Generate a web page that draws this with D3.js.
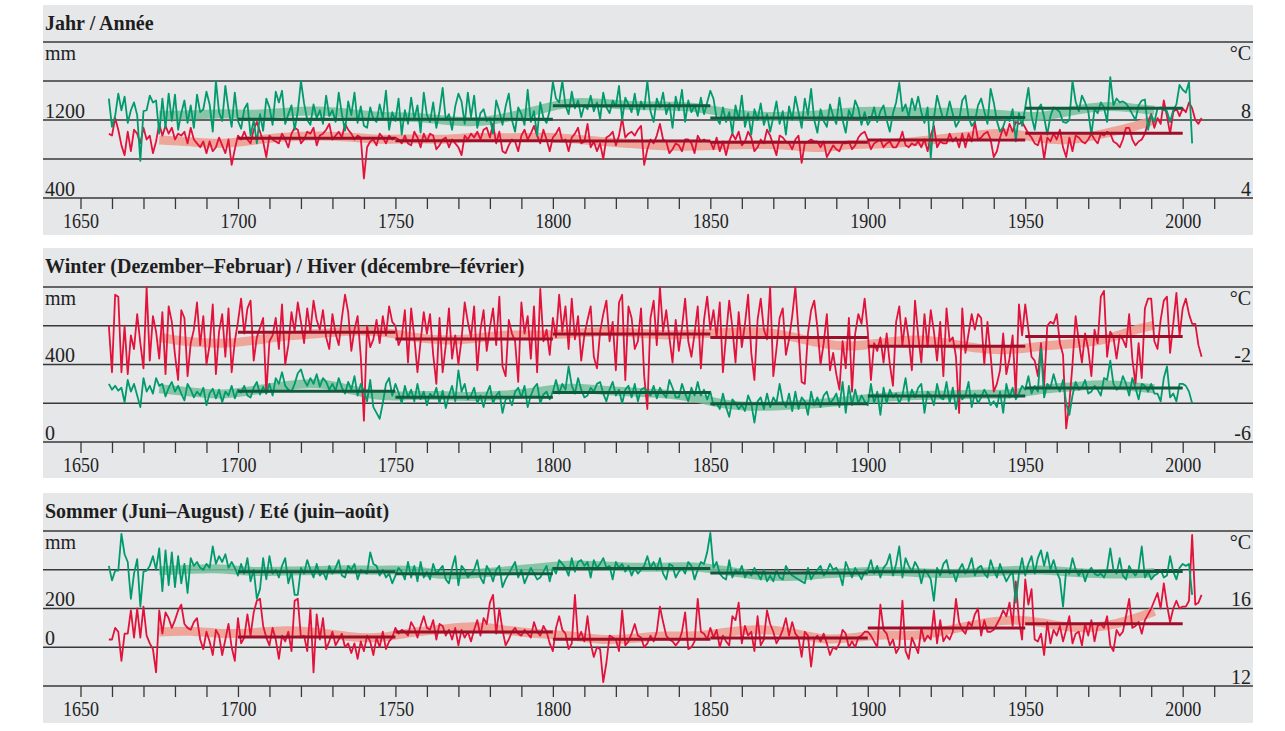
<!DOCTYPE html>
<html>
<head>
<meta charset="utf-8">
<script src="https://cdn.jsdelivr.net/npm/d3@7/dist/d3.min.js"></script>
<style>
  body { margin: 0; background: #fff; }
  svg { display: block; font-family: "Liberation Serif", "Times New Roman", serif; }
</style>
</head>
<body>
<svg id="chart" width="1285" height="731"></svg>
<script>
// first year of every annual series
var firstYear = 1659;

// Jahr / Année : precipitation (mm) 1659-2003, temperature (°C) 1659-2006
var yearPrecip = [1420,
  1130,1240,1470,1300,1440,1170,1300,1380,1250,780,
  1290,1300,1450,1380,1400,1060,1420,1120,1470,1190,
  1460,1100,1270,1400,1170,1350,1120,1460,1280,1310,
  1490,1360,1080,1600,1280,1190,1550,1310,1130,1480,
  1190,1110,1310,1370,1040,1200,960,1260,1090,1420,
  1330,1150,1490,1380,1500,1160,1260,1350,1100,1290,
  1600,1370,1200,1150,1360,1220,1300,1160,1450,1240,
  1300,1180,1480,1260,1090,1390,1250,1480,1170,1340,
  1140,1120,1330,1210,1180,1360,1220,1500,1100,1280,
  1190,1420,1050,1300,1160,1430,1210,1350,1070,1480,
  1250,1180,1380,1120,1290,1530,1200,1260,1100,1340,
  1470,1390,1160,1480,1230,1450,1120,1270,1310,1190,
  1220,1060,1400,1290,1150,1340,1470,1200,1080,1330,
  1260,1150,1510,1180,1290,1040,1380,1220,1170,1300,
  1590,1420,1380,1600,1350,1260,1490,1320,1400,1230,
  1350,1310,1450,1290,1380,1210,1480,1330,1270,1400,
  1340,1550,1200,1430,1360,1280,1470,1250,1390,1310,
  1600,1290,1180,1420,1330,1480,1260,1370,1120,1440,
  1300,1510,1180,1400,1280,1350,1240,1430,1260,1380,
  1500,1420,1220,1160,1330,1180,1280,1060,1350,1200,
  1450,1130,1270,1050,1310,1200,1370,1150,1260,1080,
  1230,1390,1160,1290,1050,1340,1200,1440,1280,1120,
  1420,1250,1520,1200,1070,1310,1190,1130,1360,1240,
  1160,1430,1200,1070,1300,1220,1400,1320,1150,1280,
  1150,1210,1330,1180,1290,1350,1200,1080,1270,1380,
  1580,1290,1360,1230,1420,1300,1440,1280,1170,1330,
  810,1220,1450,1320,1200,1240,1390,1260,1130,1190,
  1400,1450,1230,1140,1180,1350,1420,1290,1160,1520,
  1380,1190,1080,1130,1230,1190,1310,980,1270,1140,
  1330,1530,1240,1100,1310,1360,1230,1050,1240,1330,
  1310,1280,1180,1170,1200,1600,1390,1290,1450,1380,
  1290,1050,1310,1270,1380,1330,1180,1640,1350,1420,
  1380,1390,1370,1320,1260,1200,1350,1400,1410,1100,
  1250,1180,1320,1330,1300,1290,1180,1300,1360,1560,
  1510,1480,1590,960];

var yearTemp = [7.3,
  7.2,8.1,7.5,6.7,6.2,7.4,6.4,7.5,7.3,6.8,
  7.6,7.0,7.2,6.3,6.9,7.8,7.2,7.7,7.3,7.6,
  7.0,7.3,7.2,7.4,6.8,7.6,7.0,6.8,6.6,6.9,
  6.3,6.9,6.4,6.6,7.1,6.7,6.3,7.0,5.7,6.5,
  7.2,7.0,7.4,7.0,6.8,7.5,7.9,7.4,6.9,6.1,
  7.2,7.0,6.9,6.8,7.3,7.0,6.6,7.3,7.6,7.5,
  6.8,7.0,7.4,7.3,7.6,6.7,7.2,7.3,7.5,7.8,
  7.0,7.2,7.4,7.1,7.8,7.5,7.3,7.0,7.2,7.1,
  5.0,6.6,6.9,7.0,6.7,7.3,7.1,6.8,7.2,7.0,
  7.1,7.0,6.8,7.2,6.8,6.7,7.4,7.1,6.6,7.3,
  6.9,7.3,7.2,6.5,6.7,7.0,7.1,6.6,7.0,6.8,
  6.6,6.2,7.2,7.0,7.3,7.1,7.4,7.0,7.5,7.6,
  7.1,7.8,6.8,7.4,6.4,6.3,6.7,7.0,6.9,6.4,
  7.2,7.5,7.0,7.3,7.7,7.2,6.8,7.5,7.0,6.4,
  7.1,7.3,7.6,6.9,7.0,6.4,7.1,7.3,7.6,6.8,
  6.9,7.8,6.6,6.9,6.4,6.8,6.0,7.1,7.2,7.4,
  6.7,7.2,8.1,7.1,7.3,7.4,7.2,7.5,7.7,5.7,
  6.5,7.0,6.8,7.2,7.8,7.0,6.9,6.3,6.5,6.8,
  6.7,6.4,7.0,7.0,6.8,6.3,7.2,6.9,7.0,6.9,
  6.9,6.5,7.1,6.4,6.9,6.2,6.9,7.3,7.0,7.4,
  6.7,6.9,7.4,7.1,6.4,6.6,7.0,6.8,7.5,7.2,
  6.7,6.2,7.2,7.1,6.9,6.8,6.5,7.0,7.2,5.8,
  6.8,6.9,7.0,6.9,6.9,6.6,6.9,6.1,6.4,6.7,
  6.5,6.4,6.8,6.8,6.9,6.5,6.7,7.1,7.3,7.4,
  7.0,6.5,6.8,6.9,7.0,6.6,6.8,6.9,6.6,6.6,
  6.9,7.4,6.7,6.6,6.8,6.7,6.9,6.6,7.0,6.4,
  7.2,7.7,6.6,6.9,6.8,6.8,7.3,6.9,7.1,6.6,
  7.3,6.6,7.3,6.9,7.9,7.0,7.1,7.3,7.4,7.0,
  6.1,6.4,7.1,7.6,7.2,7.8,7.4,7.9,7.8,7.9,
  7.6,7.3,7.1,6.8,6.7,7.2,6.0,7.1,6.9,7.3,
  7.0,7.5,6.6,6.1,7.1,6.4,7.2,7.1,6.9,6.8,
  7.0,7.3,7.0,6.8,7.3,7.2,7.4,7.3,6.9,6.8,
  6.6,7.0,7.6,7.6,7.0,6.7,6.9,7.0,7.3,7.9,
  8.3,7.6,8.1,7.8,9.0,8.2,7.3,8.4,8.6,8.2,
  8.6,8.4,8.9,8.6,8.0,7.8,8.1];

// Winter (December-February)
var winterPrecip = [300,
  270,290,265,280,205,320,260,300,240,180,
  330,260,290,250,330,290,300,235,280,310,
  260,290,250,215,300,270,230,260,240,280,
  190,250,275,225,270,205,260,240,290,225,
  270,255,290,240,230,280,310,245,285,250,
  300,240,330,300,360,290,270,260,300,355,
  375,320,290,330,300,350,285,330,310,270,
  300,265,330,280,250,310,270,340,240,300,
  260,210,320,180,150,120,200,300,330,240,
  300,255,200,290,230,270,210,300,220,260,
  190,250,230,280,200,265,175,240,290,210,
  370,260,300,220,240,280,200,240,180,250,
  290,200,240,260,150,220,230,190,260,280,
  230,290,180,240,280,300,200,245,260,220,
  260,320,250,300,270,390,290,250,330,270,
  230,240,280,260,300,310,250,210,270,310,
  240,270,200,270,290,230,300,210,270,280,
  260,240,290,225,280,250,230,320,280,230,
  230,300,250,210,280,240,310,240,270,220,
  260,190,200,170,250,180,130,220,200,170,
  190,160,240,200,100,210,230,170,250,180,
  230,200,300,210,180,250,160,260,170,230,
  210,140,260,190,230,180,240,260,200,220,
  250,180,310,150,290,190,270,200,240,210,
  190,300,200,260,140,280,200,270,230,250,
  200,240,330,210,270,230,280,300,150,260,
  240,190,300,230,220,310,200,280,170,260,
  220,240,310,180,250,200,230,270,240,190,
  210,180,260,150,300,230,280,220,250,290,
  270,340,250,290,260,480,230,300,280,350,
  290,260,320,200,140,240,310,270,280,320,
  250,260,290,270,240,330,320,420,300,270,
  280,340,300,240,330,280,220,300,290,260,
  300,250,250,210,330,390,230,250,210,300,
  300,290,260,200];

var winterTemp = [0.0,
  -2.4,1.6,1.5,-2.4,0.0,-2.5,-0.5,-1.2,0.6,-0.9,
  -2.2,2.0,-1.8,0.5,-0.3,-1.7,0.7,-2.5,1.0,0.2,
  -1.5,-2.8,0.8,0.4,-2.6,-0.9,-0.2,1.2,-1.0,0.5,
  -2.0,-1.0,1.1,-2.5,-0.3,0.6,-1.6,0.9,-2.4,-0.8,
  0.2,1.4,-0.4,0.9,1.3,-1.8,-0.6,-0.1,0.4,-3.5,
  -0.8,-0.5,0.4,-1.2,1.1,-2.0,-1.0,0.7,-0.3,1.2,
  0.2,-0.9,0.9,-0.3,1.3,0.3,-0.2,0.8,-0.6,-1.2,
  0.6,-0.4,-1.0,0.4,1.6,0.7,-1.3,-0.2,0.5,-1.6,
  -4.9,0.0,-1.1,-0.7,0.3,-0.9,0.5,-0.5,1.0,0.2,
  0.0,-1.0,-0.6,0.8,-1.9,0.9,-0.6,-2.4,-0.8,0.7,
  -0.4,0.6,-1.5,-3.0,0.4,-2.4,-1.0,0.9,-1.7,-0.5,
  -2.0,-0.7,1.2,0.2,-0.6,1.0,-2.3,-0.2,0.8,-1.3,
  -0.1,0.9,-1.0,1.5,-2.1,-2.6,0.3,-0.4,-0.8,-2.9,
  1.2,-0.4,0.5,-1.7,1.0,-2.4,1.9,-0.8,-0.2,-1.5,
  0.4,-0.6,1.6,-0.3,1.0,-1.2,1.4,-0.7,0.5,-1.8,
  -0.5,0.3,1.0,-1.6,-2.2,-0.3,0.6,1.3,-0.8,0.2,
  -2.3,1.2,1.6,-2.8,1.0,0.4,-1.2,-0.8,0.9,-2.6,
  -4.3,0.4,1.3,-1.0,2.0,-0.3,0.8,-0.6,-1.9,0.3,
  -1.3,-0.1,1.4,-0.8,-1.6,-0.4,1.0,-2.2,0.3,1.5,
  -0.2,0.8,-0.6,1.2,-2.4,-0.5,1.3,-0.1,-1.9,0.7,
  -1.1,0.1,1.6,-1.4,-2.8,0.3,1.4,-0.2,-0.7,2.0,
  -2.6,-1.2,0.4,0.9,-1.5,-0.7,0.5,2.0,-0.3,-2.9,
  -3.0,-0.4,0.8,1.3,-0.1,-2.0,-0.9,0.6,-2.3,-1.4,
  -2.5,-3.3,-0.8,-2.2,0.4,-3.4,-0.4,0.6,0.1,1.4,
  -0.3,-2.8,-0.9,-1.3,-0.6,-1.9,-0.4,-2.0,-3.1,0.2,
  1.0,-1.0,0.4,-0.7,-2.3,1.3,-0.5,-1.9,0.6,-1.1,
  0.8,-0.3,-1.8,0.2,-2.6,0.9,-0.8,-0.6,-1.6,-4.5,
  0.9,-1.4,-0.4,0.6,-0.2,0.6,0.4,-2.0,0.2,-1.5,
  -3.4,-3.0,-2.3,-0.4,-2.5,-1.7,-0.5,-3.6,1.1,-0.5,
  1.1,-0.2,-1.6,-1.8,-2.6,-0.9,-3.1,0.0,0.2,0.1,
  0.6,-0.9,-1.5,-5.3,-4.0,-2.0,0.5,-0.8,-1.9,-0.4,
  -1.2,-2.6,-0.2,-0.9,1.5,1.8,-1.6,-0.3,-0.6,-1.7,
  -0.5,-0.7,-1.1,0.6,-1.7,-3.0,-0.9,-2.7,0.9,1.4,
  1.4,-0.8,-1.2,0.3,1.3,1.5,-1.4,0.1,1.7,-0.5,
  0.9,1.4,0.6,0.1,0.1,-1.0,-1.6];

// Sommer (June-August)
var summerPrecip = [420,
  345,395,395,585,480,440,250,380,455,210,
  390,395,420,470,400,510,290,500,320,490,
  310,470,330,430,280,460,420,440,410,400,
  430,410,520,430,470,440,480,410,440,410,
  370,430,380,460,340,400,250,300,460,350,
  470,380,400,360,420,460,330,390,270,270,
  410,380,450,400,360,430,370,390,350,420,
  380,410,450,370,360,420,400,430,350,400,
  390,380,490,430,420,370,400,360,380,330,
  370,410,390,350,440,360,420,340,440,360,
  390,350,430,380,400,420,350,330,410,470,
  320,420,400,360,380,400,450,360,330,420,
  390,340,400,420,310,350,380,410,440,360,
  400,330,370,410,380,350,360,390,420,340,
  410,380,450,430,410,370,460,390,440,450,
  420,440,360,450,410,430,460,410,420,350,
  440,410,430,390,420,370,410,380,400,420,
  470,410,440,400,460,380,350,430,420,360,
  390,410,380,440,420,350,400,440,430,490,
  590,410,440,380,360,350,450,360,400,380,
  420,360,390,370,410,380,350,400,340,370,
  340,400,360,350,420,390,370,360,350,340,
  330,410,350,380,400,420,370,390,430,400,
  410,380,320,440,400,360,410,380,350,390,
  400,450,380,420,360,410,430,480,370,430,
  520,360,460,420,390,440,410,330,400,380,
  350,240,410,370,430,450,380,390,340,400,
  430,380,410,460,370,410,420,380,360,450,
  400,360,430,380,340,370,390,230,380,460,
  370,430,470,380,460,500,420,490,400,450,
  390,350,210,400,380,460,400,370,400,340,
  390,410,380,370,380,360,400,510,400,380,
  460,370,350,420,390,370,400,520,360,390,
  350,370,380,400,360,370,470,390,350,410,
  430,420,430,270];

var summerTemp = [14.4,
  14.4,15.0,14.8,13.3,14.7,14.7,15.9,14.5,16.0,14.5,
  16.1,14.6,14.2,13.9,12.7,15.9,14.7,15.8,15.5,15.0,
  15.4,15.9,16.2,15.2,15.0,14.9,15.3,15.5,14.4,13.9,
  14.8,14.3,13.6,14.9,14.6,13.6,14.4,15.2,14.0,13.3,
  15.5,14.2,14.5,15.7,14.6,15.8,16.4,16.5,15.1,14.5,
  14.1,15.0,14.4,13.4,14.6,14.3,14.8,13.8,16.4,16.5,
  14.5,14.6,13.8,16.0,12.7,15.7,14.4,15.5,13.9,14.3,
  14.8,14.1,14.4,14.7,14.0,14.2,13.7,14.2,13.4,14.3,
  13.8,14.6,14.3,13.6,14.5,14.0,14.8,13.9,14.3,14.5,
  15.0,14.7,14.9,14.8,14.6,15.3,15.0,14.5,15.1,15.6,
  15.0,14.9,15.4,14.4,15.2,15.1,14.6,14.9,14.4,15.0,
  14.1,14.9,14.5,14.8,14.3,14.9,15.4,14.6,15.5,15.2,
  16.3,16.7,14.7,16.0,14.9,14.1,14.4,14.8,15.0,14.7,
  14.6,14.9,14.7,14.5,15.3,14.8,14.6,15.1,14.8,14.2,
  13.8,15.0,15.6,14.9,14.7,13.9,14.2,16.7,14.4,14.8,
  14.3,15.6,14.2,13.5,14.0,13.9,12.2,13.2,14.6,14.5,
  14.4,13.8,15.9,14.1,14.3,14.7,15.2,14.6,14.5,14.0,
  14.2,14.6,14.3,14.8,16.1,15.3,14.6,14.4,14.3,14.1,
  14.3,14.8,15.8,13.9,14.0,14.3,16.5,14.8,14.7,14.4,
  15.0,14.5,14.9,14.0,14.6,14.3,14.1,15.6,15.4,16.3,
  14.2,15.1,14.6,14.8,13.8,15.6,14.1,14.4,15.9,15.2,
  14.8,14.2,14.5,14.9,15.5,14.6,15.3,14.7,14.5,13.5,
  14.8,14.6,13.0,14.4,14.6,14.3,14.7,14.2,13.6,14.0,
  13.9,14.2,14.9,14.7,14.0,14.3,14.0,14.5,14.6,14.8,
  14.8,14.6,14.3,14.0,16.2,14.9,14.7,14.1,14.4,13.7,
  14.0,16.4,13.8,13.4,14.5,14.1,13.7,15.0,14.3,14.6,
  14.4,15.9,14.2,15.4,14.3,14.6,14.4,14.8,16.5,15.3,
  14.9,14.7,15.3,15.1,15.7,16.0,14.6,15.4,14.8,14.8,
  14.9,15.2,15.5,15.9,15.6,16.3,15.1,17.4,15.4,14.4,
  17.5,16.2,17.0,14.4,14.3,14.7,13.6,15.3,14.2,14.9,
  14.6,15.1,14.3,14.9,15.6,14.2,14.7,14.8,14.1,15.2,
  14.6,15.4,14.3,15.1,15.2,15.0,15.6,14.1,13.8,14.9,
  14.6,14.8,15.6,16.5,15.0,15.1,15.3,14.7,15.4,15.7,
  16.0,16.4,16.8,16.0,17.3,16.2,15.3,16.0,16.4,16.0,
  16.1,16.1,16.4,19.8,16.2,16.3,16.7];

// smoothed curves, read every ten years
var bandYears = [1675,1685,1695,1705,1715,1725,1735,1745,1755,1765,1775,1785,1795,1805,1815,1825,1835,1845,1855,1865,1875,1885,1895,1905,1915,1925,1935,1945,1955,1965,1975,1985,1991];
var yearPrecipSmooth = [1250,1250,1270,1250,1280,1300,1270,1230,1235,1200,1170,1220,1300,1390,1375,1345,1345,1340,1270,1235,1235,1250,1290,1290,1280,1280,1270,1250,1220,1300,1350,1320,1300];
var yearTempSmooth = [6.97,6.89,6.75,6.97,7.14,7.2,7.14,6.97,7.06,6.97,7.14,7.06,7.14,7.06,6.89,6.8,6.65,6.66,6.72,6.75,6.72,6.5,6.8,6.75,6.9,7.06,7.23,7.4,7.0,6.95,7.3,7.66,8.0];
var winterPrecipSmooth = [275,258,241,267,292,309,275,232,241,241,232,241,258,284,267,258,250,232,190,181,190,198,215,232,241,241,250,241,275,284,301,284,275];
var winterTempSmooth = [-0.6,-0.86,-0.94,-0.77,-0.51,-0.43,-0.26,-0.26,-0.6,-0.77,-0.68,-0.43,-0.51,-0.43,-0.26,-0.35,-0.51,-0.43,-0.35,-0.26,-0.51,-0.94,-1.11,-0.86,-0.68,-0.86,-1.2,-1.28,-1.03,-0.94,-0.77,-0.17,0.03];
var summerPrecipSmooth = [395,403,409,386,395,395,403,395,403,369,378,395,407,429,420,412,412,420,395,369,361,378,386,395,386,378,386,395,403,386,378,378,386];
var summerTempSmooth = [14.79,14.87,14.67,14.74,14.9,14.79,14.53,14.44,14.79,14.92,15.13,14.87,14.7,14.62,14.36,14.44,14.62,14.53,14.79,14.96,14.82,14.36,14.48,14.7,14.53,14.87,15.21,15.47,15.3,14.96,15.04,15.47,15.86];

// 50-year means
var periods = [1700, 1750, 1800, 1850, 1900, 1950];
var yearPrecipMean = [1207, 1207, 1347, 1220, 1225, 1320];
var yearTempMean = [7.06, 6.94, 6.92, 6.86, 6.97, 7.32];
var winterPrecipMean = [262, 231, 255, 198, 238, 279];
var winterTempMean = [-0.34, -0.68, -0.43, -0.6, -1.06, -0.55];
var summerPrecipMean = [390, 380, 407, 383, 390, 391];
var summerTempMean = [14.53, 14.79, 14.41, 14.48, 14.99, 15.21];

// axis ticks and side labels
var yearTicks = d3.range(1650, 2011, 10);

var panels = [
  { title: "Jahr / Année", top: 5, gTop: 42, gBot: 198,
    mm: [2000, 400], tc: [12, 4], mmLabels: [1200, 400], tcLabels: [8, 4],
    precip: yearPrecip, temp: yearTemp, precipSmooth: yearPrecipSmooth, tempSmooth: yearTempSmooth,
    precipMean: yearPrecipMean, tempMean: yearTempMean },
  { title: "Winter (Dezember–Februar) / Hiver (décembre–février)", top: 248, gTop: 287, gBot: 442,
    mm: [800, 0], tc: [2, -6], mmLabels: [400, 0], tcLabels: [-2, -6],
    precip: winterPrecip, temp: winterTemp, precipSmooth: winterPrecipSmooth, tempSmooth: winterTempSmooth,
    precipMean: winterPrecipMean, tempMean: winterTempMean },
  { title: "Sommer (Juni–August) / Eté (juin–août)", top: 493, gTop: 531, gBot: 686,
    mm: [600, -200], tc: [20, 12], mmLabels: [200, 0], tcLabels: [16, 12],
    precip: summerPrecip, temp: summerTemp, precipSmooth: summerPrecipSmooth, tempSmooth: summerTempSmooth,
    precipMean: summerPrecipMean, tempMean: summerTempMean }
];

var green = "#009a6c", red = "#e2123b";
var greenBand = "#74c09b", redBand = "#ee9a8c";
var greenMean = "#105a3e", redMean = "#9d0f28";
var ink = "#222";

var svg = d3.select("#chart");
var x = d3.scaleLinear().domain([1650, 2000]).range([80.5, 1182.7]);

panels.forEach(function (p) {
  var yMM = d3.scaleLinear().domain(p.mm).range([p.gTop, p.gBot]);
  var yT = d3.scaleLinear().domain(p.tc).range([p.gTop, p.gBot]);
  var g = svg.append("g");

  g.append("rect")
    .attr("x", 43).attr("y", p.top)
    .attr("width", 1210).attr("height", 230)
    .attr("fill", "#e6e7e9");

  g.append("text")
    .attr("x", 45).attr("y", p.top + 24.5)
    .attr("font-size", 20).attr("font-weight", "bold")
    .attr("fill", "#1e1e1e")
    .text(p.title);

  // horizontal grid, five lines per panel
  var gridY = d3.range(5).map(function (i) { return p.gTop + i * (p.gBot - p.gTop) / 4; });
  g.append("g")
    .selectAll("line")
    .data(gridY)
    .enter()
    .append("line")
    .attr("x1", 43).attr("x2", 1253)
    .attr("y1", function (d) { return d; })
    .attr("y2", function (d) { return d; })
    .attr("stroke", "#383838")
    .attr("stroke-width", 1.3);

  // year axis
  var axis = d3.axisBottom(x)
    .tickValues(yearTicks)
    .tickSize(11)
    .tickFormat(function (d) { return d % 50 === 0 ? d : ""; });
  var ax = g.append("g").attr("transform", "translate(0," + p.gBot + ")").call(axis);
  ax.select(".domain").remove();
  ax.selectAll("line").attr("stroke", "#383838").attr("stroke-width", 1.3);
  ax.selectAll("text")
    .attr("y", 29.5).attr("dy", 0)
    .attr("font-size", 21).attr("fill", ink)
    .attr("font-family", "Liberation Serif, serif")
    .filter(function (d) { return d % 50 === 0; })
    .attr("textLength", 36).attr("lengthAdjust", "spacingAndGlyphs");

  // side labels
  g.append("text").attr("x", 45).attr("y", p.gTop + 18)
    .attr("font-size", 20).attr("fill", ink).text("mm");
  g.append("text").attr("x", 1251).attr("y", p.gTop + 18)
    .attr("font-size", 20).attr("fill", ink).attr("text-anchor", "end").text("°C");
  g.append("g").selectAll("text").data(p.mmLabels).enter().append("text")
    .attr("x", 45).attr("y", function (d) { return yMM(d) - 2.5; })
    .attr("font-size", 20).attr("fill", ink)
    .text(function (d) { return d; });
  g.append("g").selectAll("text").data(p.tcLabels).enter().append("text")
    .attr("x", 1251).attr("y", function (d) { return yT(d) - 2.5; })
    .attr("font-size", 20).attr("fill", ink).attr("text-anchor", "end")
    .text(function (d) { return d; });

  // smoothed bands
  var smoothLine = function (ys) {
    return d3.line()
      .curve(d3.curveBasis)
      .x(function (d, i) { return x(bandYears[i]); })
      .y(function (d) { return ys(d); });
  };
  g.append("path").datum(p.tempSmooth)
    .attr("d", smoothLine(yT))
    .attr("fill", "none").attr("stroke", redBand)
    .attr("stroke-width", 9).attr("opacity", 0.85);
  g.append("path").datum(p.precipSmooth)
    .attr("d", smoothLine(yMM))
    .attr("fill", "none").attr("stroke", greenBand)
    .attr("stroke-width", 9).attr("opacity", 0.85);

  // annual series
  var annual = function (ys) {
    return d3.line()
      .x(function (d, i) { return x(firstYear + i); })
      .y(function (d) { return ys(d); });
  };
  g.append("path").datum(p.temp)
    .attr("d", annual(yT))
    .attr("fill", "none").attr("stroke", red)
    .attr("stroke-width", 1.8).attr("stroke-linejoin", "round");
  g.append("path").datum(p.precip)
    .attr("d", annual(yMM))
    .attr("fill", "none").attr("stroke", green)
    .attr("stroke-width", 1.8).attr("stroke-linejoin", "round");

  // 50-year means
  g.append("g").selectAll("line").data(p.tempMean).enter().append("line")
    .attr("x1", function (d, i) { return x(periods[i]); })
    .attr("x2", function (d, i) { return x(periods[i] + 50); })
    .attr("y1", function (d) { return yT(d); })
    .attr("y2", function (d) { return yT(d); })
    .attr("stroke", redMean).attr("stroke-width", 3);
  g.append("g").selectAll("line").data(p.precipMean).enter().append("line")
    .attr("x1", function (d, i) { return x(periods[i]); })
    .attr("x2", function (d, i) { return x(periods[i] + 50); })
    .attr("y1", function (d) { return yMM(d); })
    .attr("y2", function (d) { return yMM(d); })
    .attr("stroke", greenMean).attr("stroke-width", 3);
});
</script>
</body>
</html>
